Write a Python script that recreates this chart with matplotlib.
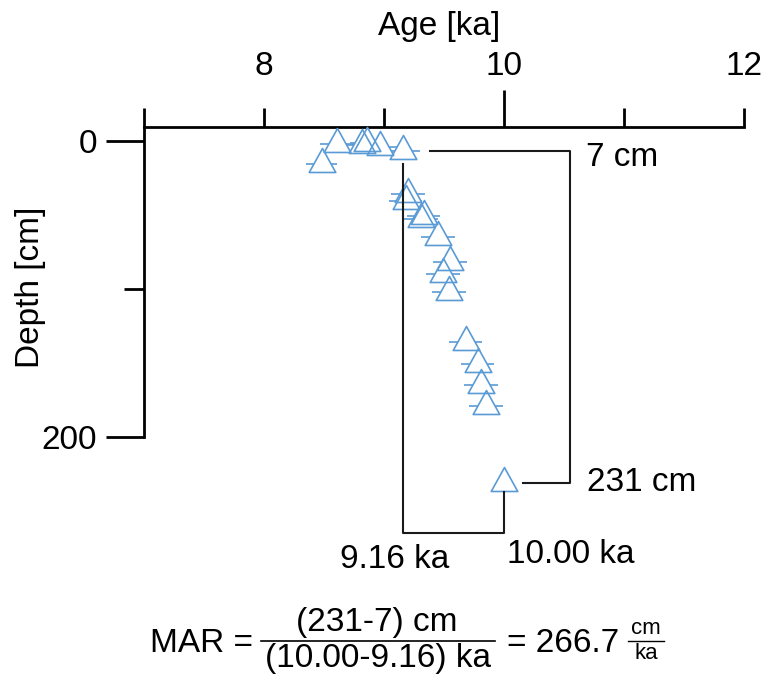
import matplotlib.pyplot as plt
from matplotlib.path import Path
from matplotlib.lines import Line2D

plt.rcParams['font.family'] = ['Liberation Sans', 'DejaVu Sans']

# dated samples: age [ka], depth [cm], age uncertainty [ka]
age = [8.61, 8.48, 8.82, 8.86, 8.97, 9.16, 9.20, 9.18, 9.33, 9.31,
       9.45, 9.55, 9.49, 9.54, 9.68, 9.78, 9.81, 9.85, 10.00]
depth = [2, 16, 3, 1.5, 4, 7, 36, 41, 51, 53,
         65, 82, 90, 102, 136, 151, 165, 179, 231]
age_err = [0.14, 0.13, 0.14, 0.14, 0.14, 0.14, 0.14, 0.14, 0.14, 0.14,
           0.14, 0.14, 0.14, 0.14, 0.14, 0.14, 0.14, 0.14, 0.0]

xticks = [7, 8, 9, 10, 11, 12]
xticklabels = ['', '8', '', '10', '', '12']
yticks = [0, 100, 200]
yticklabels = ['0', '', '200']

# top and base of the interval used for the accumulation rate
i_top = depth.index(7)
i_base = depth.index(231)
top_age, top_depth = age[i_top], depth[i_top]
base_age, base_depth = age[i_base], depth[i_base]
mar = (base_depth - top_depth) / (base_age - top_age)

blue = '#5b9bd5'
W, H = 763, 679


def fx(px):
    return px / W


def fy(py):
    return 1 - py / H


fig = plt.figure(figsize=(W / 100, H / 100), dpi=100)
ax = fig.add_axes([fx(144), fy(570.2), 600 / W, (570.2 - 126.7) / H])

# triangle with its reference point at the level of the error bar
tri = Path([(0, 16), (-13.3, -8), (13.3, -8), (0, 16)], closed=True)

ax.errorbar(age, depth, xerr=age_err, fmt='none', ecolor=blue,
            elinewidth=1.2, capsize=0, zorder=2, clip_on=False)
ax.plot(age, depth, ls='none', marker=tri, ms=23, mfc='white', mec='none',
        zorder=3, clip_on=False)
ax.plot(age, depth, ls='none', marker=tri, ms=23, mfc='none', mec=blue,
        mew=1.2, zorder=4, clip_on=False)

# brackets to the top and base samples
lk = dict(color='#1a1a1a', lw=1.5, zorder=5, clip_on=False)
ax.plot([9.38, 10.55, 10.55, 10.16],
        [top_depth, top_depth, base_depth, base_depth], **lk)
ax.plot([top_age, top_age, base_age, base_age],
        [16, 265, 265, 237], **lk)

ax.text(10.68, top_depth + 4, f'{top_depth:g} cm', fontsize=24, va='center')
ax.text(10.69, base_depth, f'{base_depth:g} cm', fontsize=24, va='center')
ax.text(9.09, 283, f'{top_age:.2f} ka', fontsize=24, ha='center', va='center')
ax.text(10.025, 279.5, f'{base_age:.2f} ka', fontsize=24, ha='left', va='center')

ax.set_xlim(7, 12)
ax.set_ylim(290, -9.5)

for s in ['right', 'bottom']:
    ax.spines[s].set_visible(False)
ax.spines['top'].set_linewidth(2)
ax.spines['left'].set_linewidth(2)
ax.spines['left'].set_bounds(-9.5, 200)

ax.xaxis.set_ticks_position('top')
ax.set_xticks(xticks, xticklabels)
ax.set_yticks(yticks, yticklabels)
ax.tick_params(axis='x', direction='out', length=13.5, width=2, pad=18.7,
               labelsize=24)
ax.tick_params(axis='y', direction='out', length=27.4, width=2, pad=6.6,
               labelsize=24)
for t in ax.xaxis.get_major_ticks():
    if t.get_loc() == 10:
        t.tick2line.set_markersize(26.6)
for t in ax.yaxis.get_major_ticks():
    if t.get_loc() == 100:
        t.tick1line.set_markersize(14.4)

fig.text(fx(439), fy(35), 'Age [ka]', fontsize=24, ha='center', va='baseline')
fig.text(fx(31), fy(287.5), 'Depth [cm]', fontsize=24, rotation=90,
         ha='center', va='center')

# MAR equation
fig.text(fx(149.5), fy(652), 'MAR =', fontsize=24, ha='left', va='baseline')
fig.add_artist(Line2D([fx(261), fx(495)], [fy(641), fy(641)],
                      color='black', lw=1.2))
fig.text(fx(377), fy(638.5), f'({base_depth:g}-{top_depth:g}) cm',
         fontsize=24, ha='center', va='bottom')
fig.text(fx(378), fy(643.5), f'({base_age:.2f}-{top_age:.2f}) ka',
         fontsize=24, ha='center', va='top')
fig.text(fx(507), fy(652), f'= {mar:.1f}', fontsize=24, ha='left',
         va='baseline')
fig.add_artist(Line2D([fx(628), fx(664)], [fy(641), fy(641)],
                      color='black', lw=1.0))
fig.text(fx(646), fy(639), 'cm', fontsize=16, ha='center', va='bottom')
fig.text(fx(646), fy(643), 'ka', fontsize=16, ha='center', va='top')

fig.savefig('out.png', dpi=100)
